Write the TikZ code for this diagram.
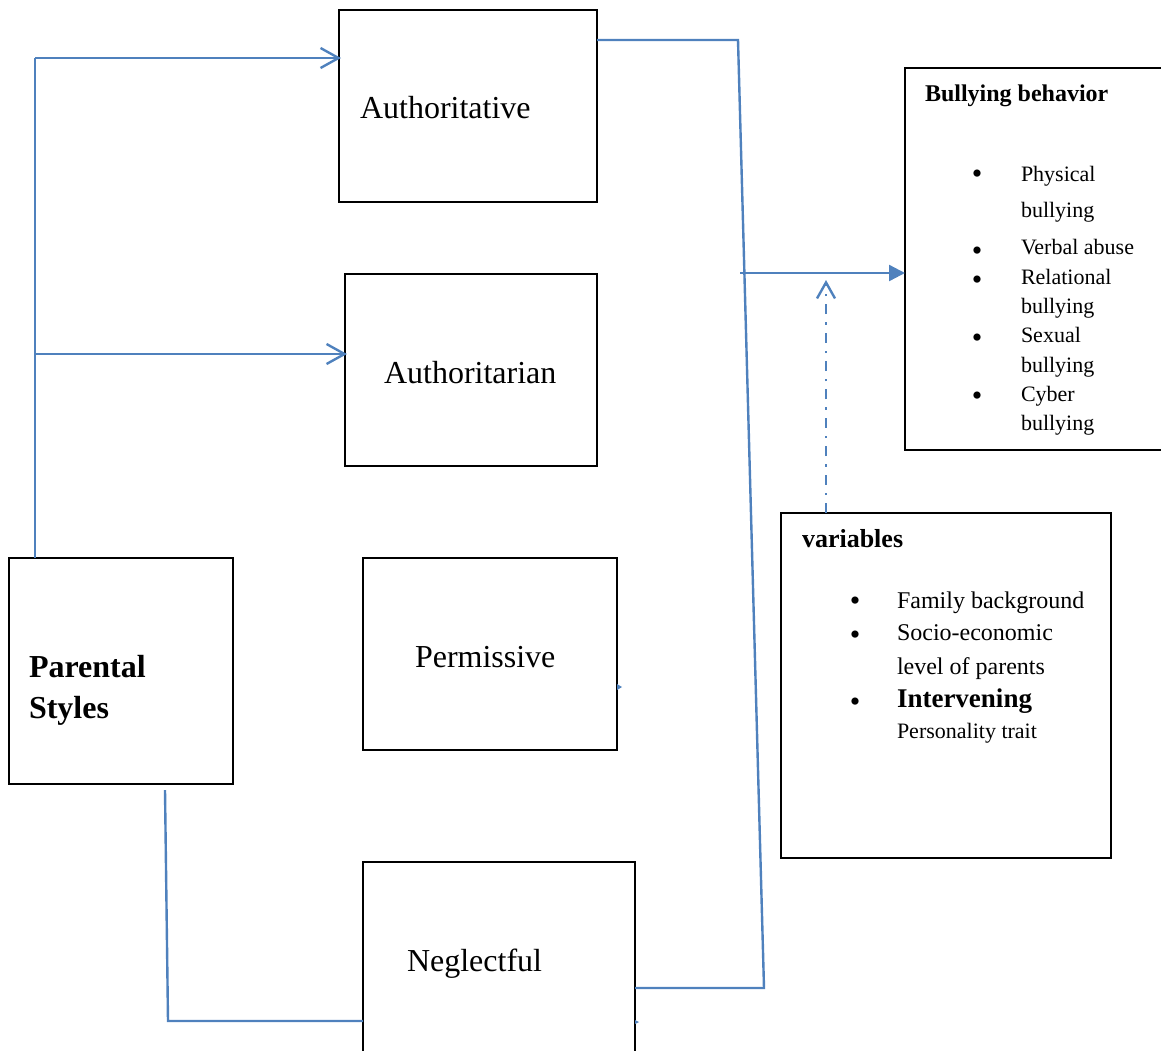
\documentclass[tikz,border=0pt]{standalone}
\usepackage{fontspec}
\setmainfont{Liberation Serif}
\usetikzlibrary{arrows.meta}
\definecolor{bl}{RGB}{79,129,189}
\begin{document}
\begin{tikzpicture}[x=0.5pt,y=-0.5pt,
  box/.style={draw=black,line width=0.6pt,inner sep=0pt,outer sep=0pt},
  lbl/.style={anchor=base west,inner sep=0pt,outer sep=0pt},
  big/.style={lbl,font=\fontsize{16}{19}\selectfont},
  item/.style={lbl,font=\fontsize{11}{13}\selectfont},
  itemb/.style={lbl,font=\fontsize{12}{14}\selectfont},
  dotb/.style={anchor=base,inner sep=0pt,outer sep=0pt,font=\fontsize{15}{17}\selectfont},
  conn/.style={draw=bl,line width=1.2pt},
  openarrow/.style={-{Straight Barb[length=9pt,width=10pt]}},
  fillarrow/.style={-{Triangle[length=8pt,width=8pt]}}]
\useasboundingbox (0,0) rectangle (1161,1050);
\clip (0,0) rectangle (1161,1050);
% boxes
\node[box,minimum width=129pt,minimum height=96pt] (auth) at (468,106) {};
\node[box,minimum width=126pt,minimum height=96pt] (autn) at (471,370) {};
\node[box,minimum width=127pt,minimum height=96pt] (perm) at (490,654) {};
\node[box,minimum width=136pt,minimum height=100pt] (negl) at (499,962) {};
\node[box,minimum width=112pt,minimum height=113pt] (par) at (121,671) {};
\node[box,minimum width=132.5pt,minimum height=191pt] (bully) at (1037.5,259) {};
\node[box,minimum width=165pt,minimum height=172.5pt] (vars) at (946,685.5) {};
% box labels
\node[big] (tauth) at (360,118) {Authoritative};
\node[big] (tautn) at (384,383) {Authoritarian};
\node[big] (tperm) at (415,667) {Permissive};
\node[big] (tnegl) at (407,971) {Neglectful};
\node[lbl,font=\fontsize{16}{19}\bfseries] (tpar1) at (29,677) {Parental};
\node[lbl,font=\fontsize{16}{19}\bfseries] (tpar2) at (29,718) {Styles};
% bullying behavior
\node[lbl,font=\fontsize{12}{14}\bfseries] (tbully) at (925,101) {Bullying behavior};
\node[dotb] (b1) at (977,183) {•};
\node[item] (i1a) at (1021,181) {Physical};
\node[item] (i1b) at (1021,217) {bullying};
\node[dotb] (b2) at (977,260) {•};
\node[item] (i2) at (1021,254) {Verbal abuse};
\node[dotb] (b3) at (977,289) {•};
\node[item] (i3a) at (1021,284) {Relational};
\node[item] (i3b) at (1021,313) {bullying};
\node[dotb] (b4) at (977,347) {•};
\node[item] (i4a) at (1021,342) {Sexual};
\node[item] (i4b) at (1021,372) {bullying};
\node[dotb] (b5) at (977,405) {•};
\node[item] (i5a) at (1021,401) {Cyber};
\node[item] (i5b) at (1021,430) {bullying};
% variables
\node[lbl,font=\fontsize{13}{15}\bfseries] (tvars) at (802,547) {variables};
\node[dotb] (v1) at (855,610) {•};
\node[itemb] (j1) at (897,608) {Family background};
\node[dotb] (v2) at (855,644) {•};
\node[itemb] (j2a) at (897,640) {Socio-economic};
\node[itemb] (j2b) at (897,674) {level of parents};
\node[dotb] (v3) at (855,711) {•};
\node[lbl,font=\fontsize{13.5}{16}\bfseries] (j3a) at (897,707) {Intervening};
\node[item] (j3b) at (897,738) {Personality trait};
% connectors
\coordinate (top) at (35,58);
\coordinate (mid) at (35,354);
\draw[conn] ([xshift=13pt]par.north west) -- (top);
\draw[conn,openarrow] (top) -- ([xshift=1pt]top -| auth.west);
\draw[conn,openarrow] (mid) -- ([xshift=1pt]mid -| autn.west);
\coordinate (bt) at (738,40);
\coordinate (bb) at (764,988);
\draw[conn] ([yshift=-15pt]auth.north east) -- (bt) -- (bb) -- ([yshift=-13pt]negl.east);
\coordinate (jn) at (740,273);
\draw[conn,fillarrow] (jn) -- (jn -| bully.west);
\coordinate (dtip) at (826,280);
\draw[conn,dash pattern=on 5pt off 4pt on 1.2pt off 4pt,-{Straight Barb[length=8pt,width=9pt]}] ([xshift=22.5pt]vars.north west) -- (dtip);
\coordinate (pl) at (168,1021);
\draw[conn] ([shift={(22pt,-3pt)}]par.south) -- (pl) -- (pl -| negl.west);
% small stubs
\fill[bl] ([yshift=-15pt]perm.east) -- ++(5,3) -- ++(-5,3) -- cycle;
\fill[bl] ([yshift=-29pt]negl.east) -- ++(4,2) -- ++(-4,2) -- cycle;
\end{tikzpicture}
\end{document}
